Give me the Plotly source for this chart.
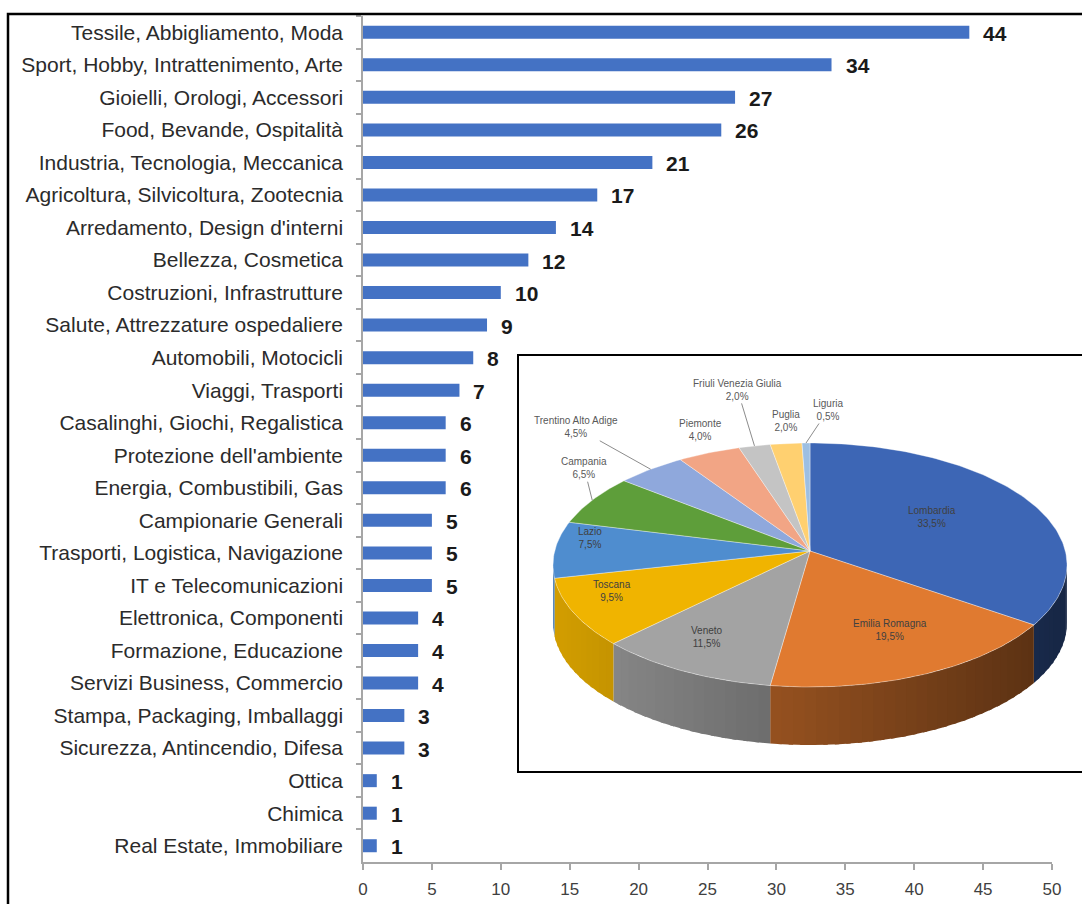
import math
import plotly.graph_objects as go

# ---------------- data ----------------
categories = [
    "Tessile, Abbigliamento, Moda",
    "Sport, Hobby, Intrattenimento, Arte",
    "Gioielli, Orologi, Accessori",
    "Food, Bevande, Ospitalità",
    "Industria, Tecnologia, Meccanica",
    "Agricoltura, Silvicoltura, Zootecnia",
    "Arredamento, Design d'interni",
    "Bellezza, Cosmetica",
    "Costruzioni, Infrastrutture",
    "Salute, Attrezzature ospedaliere",
    "Automobili, Motocicli",
    "Viaggi, Trasporti",
    "Casalinghi, Giochi, Regalistica",
    "Protezione dell'ambiente",
    "Energia, Combustibili, Gas",
    "Campionarie Generali",
    "Trasporti, Logistica, Navigazione",
    "IT e Telecomunicazioni",
    "Elettronica, Componenti",
    "Formazione, Educazione",
    "Servizi Business, Commercio",
    "Stampa, Packaging, Imballaggi",
    "Sicurezza, Antincendio, Difesa",
    "Ottica",
    "Chimica",
    "Real Estate, Immobiliare",
]
counts = [44, 34, 27, 26, 21, 17, 14, 12, 10, 9, 8, 7, 6, 6, 6, 5, 5, 5, 4, 4, 4, 3, 3, 1, 1, 1]
x_ticks = [0, 5, 10, 15, 20, 25, 30, 35, 40, 45, 50]

regions = ["Lombardia", "Emilia Romagna", "Veneto", "Toscana", "Lazio", "Campania",
           "Trentino Alto Adige", "Piemonte", "Friuli Venezia Giulia", "Puglia", "Liguria"]
region_pct = [33.5, 19.5, 11.5, 9.5, 7.5, 6.5, 4.5, 4.0, 2.0, 2.0, 0.5]

# ---------------- styles ----------------
W, H = 1082, 904
BAR_COLOR = "#4472C4"
TOP_COLORS = ["#3D66B5", "#E07A30", "#A3A3A3", "#F0B400", "#4F8DCF", "#5E9E3A",
              "#8FA8DC", "#F2A585", "#C4C4C4", "#FFD070", "#9DBFE2"]
# outside-label offsets (pixels) relative to the slice's outer edge point, leader line flag
OUT_LABEL = {
    "Campania": (-8, -32, True),
    "Trentino Alto Adige": (-75, -42, True),
    "Piemonte": (-8, -23, False),
    "Friuli Venezia Giulia": (-17, -56, True),
    "Puglia": (0, -23, False),
    "Liguria": (22, -33, True),
}
FONT = "Liberation Sans, Arial, sans-serif"

fig = go.Figure()

# ---------------- bar chart ----------------
fig.add_trace(go.Bar(
    x=counts, y=categories, orientation="h", marker=dict(color=BAR_COLOR, line=dict(width=0)),
    width=0.4, hoverinfo="x+y", xaxis="x", yaxis="y",
))
for c, v in zip(categories, counts):
    fig.add_annotation(x=v, y=c, xref="x", yref="y", text=f"<b>{v}</b>", showarrow=False,
                       xanchor="left", xshift=12, yshift=-1,
                       font=dict(family=FONT, size=21, color="#1a1a1a"))

# ---------------- pie (3D-look ellipse) ----------------
cx, cy = 810.0, 565.0      # ellipse centre of the top face (pixel units)
apx, apy = 810.0, 551.0    # apex of the pie
ra, rb, depth = 257.0, 122.0, 58.0
total = sum(region_pct)


def ell(theta_deg, dy=0.0):
    t = math.radians(theta_deg)
    return cx + ra * math.cos(t), cy - rb * math.sin(t) + dy


def shade(hex_color, f):
    h = hex_color.lstrip("#")
    r, g, b = (int(h[k:k + 2], 16) for k in (0, 2, 4))
    return "rgb(%d,%d,%d)" % (r * f, g * f, b * f)


cum = 0.0
slices = []
for name, p in zip(regions, region_pct):
    t1 = 90.0 - 360.0 * cum / total
    t2 = 90.0 - 360.0 * (cum + p) / total
    slices.append((name, p, t1, t2))
    cum += p

# side walls (visible lower half: theta between -180 and 0), shaded darker to the right
for i, (name, p, t1, t2) in enumerate(slices):
    lo, hi = max(t2, -180.0), min(t1, 0.0)
    if hi <= lo:
        continue
    nseg = max(1, int((hi - lo) / 2.5))
    for s in range(nseg):
        a0 = hi - (hi - lo) * s / nseg
        a1 = hi - (hi - lo) * (s + 1) / nseg
        if s < nseg - 1:
            a1 -= 1.0  # small overlap to hide seams
        angs = [a0 + (a1 - a0) * k / 4 for k in range(5)]
        xs = [ell(a)[0] for a in angs] + [ell(a, depth)[0] for a in reversed(angs)]
        ys = [ell(a)[1] for a in angs] + [ell(a, depth)[1] for a in reversed(angs)]
        xm = sum(xs) / len(xs)
        f = 0.88 - 0.5 * (xm - (cx - ra)) / (2 * ra)
        col = shade(TOP_COLORS[i], f)
        fig.add_trace(go.Scatter(x=xs, y=ys, mode="lines", fill="toself", fillcolor=col,
                                 line=dict(width=0, color=col), hoverinfo="skip",
                                 xaxis="x2", yaxis="y2", showlegend=False))

# top faces
for i, (name, p, t1, t2) in enumerate(slices):
    n = max(6, int(abs(t1 - t2)))
    angs = [t1 + (t2 - t1) * k / n for k in range(n + 1)]
    xs = [apx] + [ell(a)[0] for a in angs] + [apx]
    ys = [apy] + [ell(a)[1] for a in angs] + [apy]
    fig.add_trace(go.Scatter(x=xs, y=ys, mode="lines", fill="toself", fillcolor=TOP_COLORS[i],
                             line=dict(width=0.6, color="rgba(255,255,255,0.6)"),
                             name=name, hoverinfo="name", xaxis="x2", yaxis="y2", showlegend=False))

# labels
for i, (name, p, t1, t2) in enumerate(slices):
    tm = (t1 + t2) / 2.0
    txt = f"{name}<br>{p:.1f}%".replace(".", ",")
    if name in OUT_LABEL:
        dx, dy, lead = OUT_LABEL[name]
        ex, ey = ell(tm)
        if lead:
            fig.add_annotation(x=ex, y=ey, xref="x2", yref="y2", text=txt,
                               showarrow=True, arrowhead=0, arrowwidth=1, arrowcolor="#8C8C8C",
                               ax=ex + dx, ay=ey + dy, axref="x2", ayref="y2",
                               font=dict(family=FONT, size=10, color="#595959"))
        else:
            fig.add_annotation(x=ex + dx, y=ey + dy, xref="x2", yref="y2", text=txt, showarrow=False,
                               font=dict(family=FONT, size=10, color="#595959"))
    else:
        r = 0.95 - 1.2 * p / total
        t = math.radians(tm)
        lx = apx + r * ra * math.cos(t)
        ly = apy - r * rb * math.sin(t)
        fig.add_annotation(x=lx, y=ly, xref="x2", yref="y2", text=txt, showarrow=False,
                           font=dict(family=FONT, size=10, color="#404040"))

# ---------------- layout ----------------
px = lambda v: v / W
py = lambda v: 1 - v / H

fig.update_layout(
    width=W, height=H, margin=dict(l=0, r=0, t=0, b=0, pad=0, autoexpand=False),
    paper_bgcolor="white", plot_bgcolor="rgba(0,0,0,0)",
    showlegend=False,
    xaxis=dict(domain=[px(363), px(1052)], range=[0, 50], tickvals=x_ticks, automargin=False,
               showgrid=False, zeroline=False, showline=True, linecolor="#A6A6A6", linewidth=1.5,
               ticks="outside", ticklen=6, tickcolor="#A6A6A6", tickwidth=1.5,
               ticklabelstandoff=5,
               tickfont=dict(family=FONT, size=17, color="#404040"), anchor="y"),
    yaxis=dict(domain=[py(862), py(16)], categoryorder="array", categoryarray=categories,
               autorange="reversed", showgrid=False, zeroline=False, showline=True, automargin=False,
               linecolor="#A6A6A6", linewidth=1.5, ticks="outside", ticklen=5, tickcolor="#A6A6A6",
               tickwidth=1.5, tickson="boundaries", ticklabelstandoff=14,
               tickfont=dict(family=FONT, size=21, color="#2b2b2b"), anchor="x"),
    xaxis2=dict(domain=[px(530), 1.0], range=[530, 1082], visible=False, fixedrange=True,
                automargin=False, anchor="y2"),
    yaxis2=dict(domain=[py(770), py(357)], range=[770, 357], visible=False, fixedrange=True,
                automargin=False, anchor="x2"),
    shapes=[
        dict(type="rect", xref="paper", yref="paper", x0=px(8), x1=1.05, y0=-0.05, y1=py(14),
             line=dict(color="black", width=2.5), fillcolor="rgba(0,0,0,0)", layer="above"),
        dict(type="rect", xref="paper", yref="paper", x0=px(518), x1=1.05, y0=py(772), y1=py(355),
             line=dict(color="black", width=2), fillcolor="white", layer="below"),
    ],
)

fig.write_html("out.html")
